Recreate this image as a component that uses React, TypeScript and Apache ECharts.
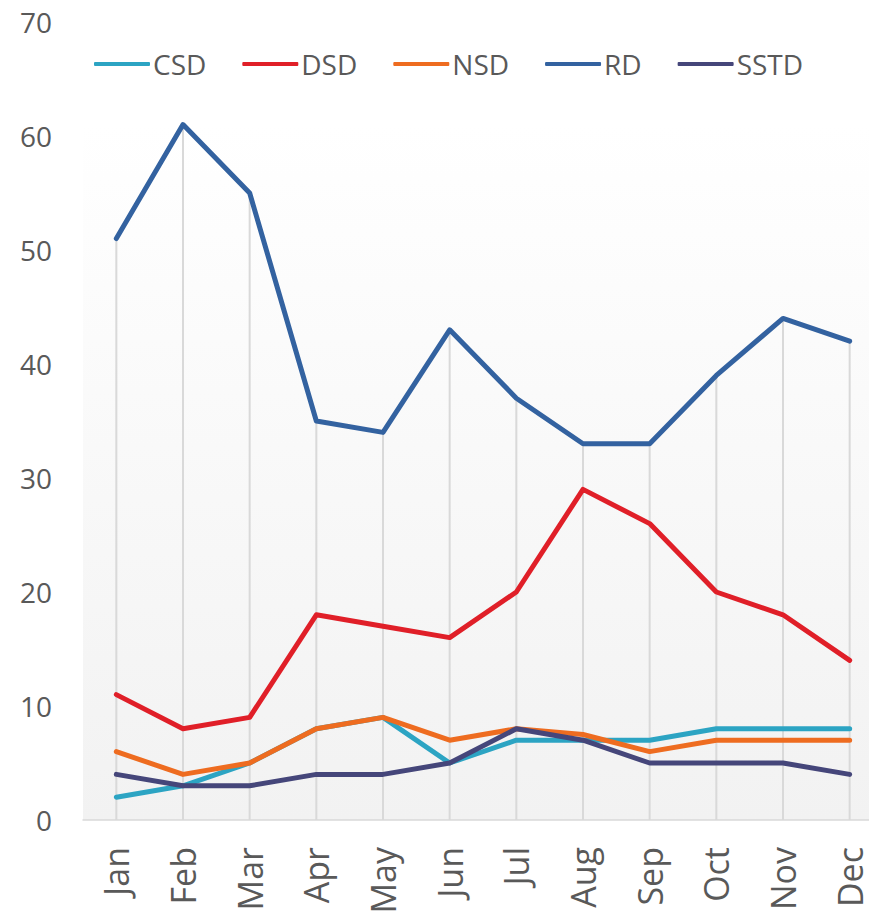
import React, { useEffect, useRef } from "react";
import * as echarts from "echarts";

const months = ["Jan", "Feb", "Mar", "Apr", "May", "Jun", "Jul", "Aug", "Sep", "Oct", "Nov", "Dec"];
const csd = [2, 3, 5, 8, 9, 5, 7, 7, 7, 8, 8, 8];
const dsd = [11, 8, 9, 18, 17, 16, 20, 29, 26, 20, 18, 14];
const nsd = [6, 4, 5, 8, 9, 7, 8, 7.5, 6, 7, 7, 7];
const rd = [51, 61, 55, 35, 34, 43, 37, 33, 33, 39, 44, 42];
const sstd = [4, 3, 3, 4, 4, 5, 8, 7, 5, 5, 5, 4];
const yTicks = { min: 0, max: 70, interval: 10 };

const FONT = "'Open Sans', 'Noto Sans', sans-serif";
const TEXT = "#595959";

const seriesDefs = [
  { name: "CSD", data: csd, color: "#2ca4c3" },
  { name: "DSD", data: dsd, color: "#e01f28" },
  { name: "NSD", data: nsd, color: "#ee6c20" },
  { name: "RD", data: rd, color: "#3362a0" },
  { name: "SSTD", data: sstd, color: "#45467a" },
];

const CHART_W = 883;
const CHART_H = 920;

export default function App() {
  const ref = useRef<HTMLDivElement>(null);
  useEffect(() => {
    if (!ref.current) return;
    const chart = echarts.init(ref.current, undefined, { renderer: "svg" });
    const dropMax = months.map((_, i) => Math.max(...seriesDefs.map((s) => s.data[i])));
    chart.setOption({
      animation: false,
      graphic: [
        {
          type: "rect",
          z: -10,
          silent: true,
          shape: { x: 83, y: 125, width: CHART_W - 83, height: 695 },
          style: {
            fill: new echarts.graphic.LinearGradient(0, 0, 0, 1, [
              { offset: 0, color: "#ffffff" },
              { offset: 1, color: "#f2f2f2" },
            ]),
          },
        },
      ],
      legend: {
        data: seriesDefs.map((s) => s.name),
        left: 94,
        top: 50,
        padding: 0,
        itemWidth: 56,
        itemHeight: 4,
        itemGap: 36,
        icon: "roundRect",
        textStyle: { fontFamily: FONT, fontSize: 28, color: TEXT, padding: [0, 0, 0, -2] },
      },
      grid: {
        left: 83,
        right: 0,
        top: 22,
        bottom: 100,
        show: false,
      },
      xAxis: {
        type: "category",
        data: months,
        boundaryGap: true,
        axisLine: { show: true, lineStyle: { color: "#d9d9d9", width: 1.5 } },
        axisTick: { show: false },
        splitLine: { show: false },
        axisLabel: {
          rotate: 90,
          margin: 27,
          fontFamily: FONT,
          fontSize: 34,
          lineHeight: 34,
          color: TEXT,
          interval: 0,
        },
      },
      yAxis: {
        type: "value",
        min: yTicks.min,
        max: yTicks.max,
        interval: yTicks.interval,
        axisLine: { show: false },
        axisTick: { show: false },
        splitLine: { show: false },
        axisLabel: { margin: 31, fontFamily: FONT, fontSize: 28, color: TEXT },
      },
      series: [
        {
          name: "drop",
          type: "bar",
          data: dropMax,
          barWidth: 2,
          itemStyle: { color: "#d9d9d9" },
          z: 1,
          silent: true,
        },
        ...seriesDefs.map((s) => ({
          name: s.name,
          type: "line",
          data: s.data,
          symbol: "none",
          z: 3,
          itemStyle: { color: s.color },
          lineStyle: { color: s.color, width: 5, cap: "round", join: "round" },
        })),
      ],
    });
    return () => chart.dispose();
  }, []);
  return (
    <div
      style={{
        position: "absolute",
        left: 0,
        top: 0,
        width: 869,
        height: CHART_H,
        overflow: "hidden",
      }}
    >
      <div ref={ref} style={{ width: CHART_W, height: CHART_H }} />
    </div>
  );
}
